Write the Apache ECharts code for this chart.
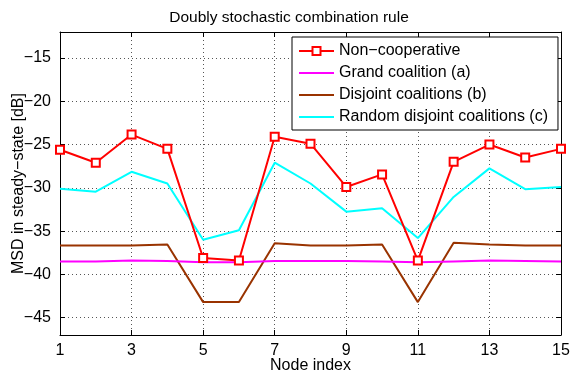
<!DOCTYPE html>
<html>
<head>
<meta charset="utf-8">
<script src="https://cdn.jsdelivr.net/npm/echarts@6/dist/echarts.min.js"></script>
<style>
html, body { margin: 0; padding: 0; background: #fff; }
#chart { width: 571px; height: 372px; }
</style>
</head>
<body>
<div id="chart"></div>
<script>
// node index 1..15
const nodes = ['1','2','3','4','5','6','7','8','9','10','11','12','13','14','15'];
const yTicks = [-45, -40, -35, -30, -25, -20, -15];

// MSD in steady-state [dB]
const nonCoop   = [-25.6, -27.1, -23.85, -25.5, -38.1, -38.4, -24.1, -24.9, -29.9, -28.45, -38.4, -27.0, -25.0, -26.5, -25.5];
const grandA    = [-38.5, -38.5, -38.4, -38.45, -38.6, -38.6, -38.45, -38.45, -38.45, -38.5, -38.6, -38.5, -38.4, -38.45, -38.5];
const disjointB = [-36.65, -36.65, -36.65, -36.55, -43.2, -43.2, -36.4, -36.65, -36.65, -36.55, -43.2, -36.35, -36.55, -36.65, -36.65];
const randomC   = [-30.1, -30.45, -28.15, -29.5, -36.0, -34.9, -27.1, -29.5, -32.75, -32.35, -35.8, -31.05, -27.75, -30.15, -29.9];

const font = 'Liberation Sans';
const minus = v => String(v).replace('-', '\u2212');

let myChart = echarts.init(document.getElementById('chart'));

const gridLine = { show: true, lineStyle: { color: '#555', type: [1, 3], width: 1 } };
// legend entries without a marker
const noMarker = name => ({ name: name, itemStyle: { opacity: 0 } });

myChart.setOption({
  animation: false,
  textStyle: { fontFamily: font },
  title: {
    text: 'Doubly stochastic combination rule',
    left: 284, top: 5, textAlign: 'center',
    textStyle: { fontSize: 15.5, fontWeight: 'normal', color: '#000', fontFamily: font }
  },
  grid: { left: 60, right: 10, top: 32, bottom: 37, containLabel: false, outerBoundsMode: 'none' },
  legend: {
    orient: 'vertical',
    left: 292, top: 37,
    padding: [6, 10, 5, 6],
    itemGap: 6,
    itemWidth: 35, itemHeight: 10,
    backgroundColor: '#fff',
    borderColor: '#000', borderWidth: 1,
    textStyle: { fontSize: 16, color: '#000', fontFamily: font },
    data: [
      'Non\u2212cooperative',
      noMarker('Grand coalition (a)'),
      noMarker('Disjoint coalitions (b)'),
      noMarker('Random disjoint coalitions (c)')
    ]
  },
  xAxis: [{
    type: 'category', data: nodes, boundaryGap: false,
    name: 'Node index', nameLocation: 'middle', nameGap: 23, nameMoveOverlap: false,
    nameTextStyle: { fontSize: 16, color: '#000' },
    axisLine: { lineStyle: { color: '#000', width: 1 } },
    axisTick: { inside: true, length: 5, interval: 1, lineStyle: { color: '#000' } },
    axisLabel: { interval: 1, fontSize: 16, color: '#000', margin: 8 },
    splitLine: Object.assign({ interval: 1 }, gridLine)
  }, {
    type: 'category', data: nodes, boundaryGap: false, position: 'top',
    axisLine: { lineStyle: { color: '#000', width: 1 } },
    axisTick: { inside: true, length: 5, interval: 1, lineStyle: { color: '#000' } },
    axisLabel: { show: false }, splitLine: { show: false }
  }],
  yAxis: [{
    type: 'value', min: -47, max: -12,
    name: 'MSD in steady\u2212state [dB]', nameLocation: 'middle', nameGap: 33, nameMoveOverlap: false,
    nameTextStyle: { fontSize: 16, color: '#000' },
    axisLine: { show: true, lineStyle: { color: '#000', width: 1 } },
    axisTick: { show: true, inside: true, length: 5, customValues: yTicks, lineStyle: { color: '#000' } },
    axisLabel: { customValues: yTicks, fontSize: 16, color: '#000', margin: 9, formatter: minus },
    splitLine: gridLine
  }, {
    type: 'value', min: -47, max: -12, position: 'right',
    axisLine: { show: true, lineStyle: { color: '#000', width: 1 } },
    axisTick: { show: true, inside: true, length: 5, customValues: yTicks, lineStyle: { color: '#000' } },
    axisLabel: { show: false }, splitLine: { show: false }
  }],
  series: [{
    name: 'Non\u2212cooperative', type: 'line', data: nonCoop, z: 5,
    symbol: 'emptyRect', symbolSize: 8,
    lineStyle: { color: '#ff0000', width: 2 },
    itemStyle: { color: '#ff0000', borderWidth: 1.5 }
  }, {
    name: 'Grand coalition (a)', type: 'line', data: grandA, z: 4, symbol: 'none',
    lineStyle: { color: '#ff00ff', width: 2 }, itemStyle: { color: '#ff00ff' }
  }, {
    name: 'Disjoint coalitions (b)', type: 'line', data: disjointB, z: 3, symbol: 'none',
    lineStyle: { color: '#993300', width: 2 }, itemStyle: { color: '#993300' }
  }, {
    name: 'Random disjoint coalitions (c)', type: 'line', data: randomC, z: 2, symbol: 'none',
    lineStyle: { color: '#00ffff', width: 2 }, itemStyle: { color: '#00ffff' }
  }]
});
</script>
</body>
</html>
